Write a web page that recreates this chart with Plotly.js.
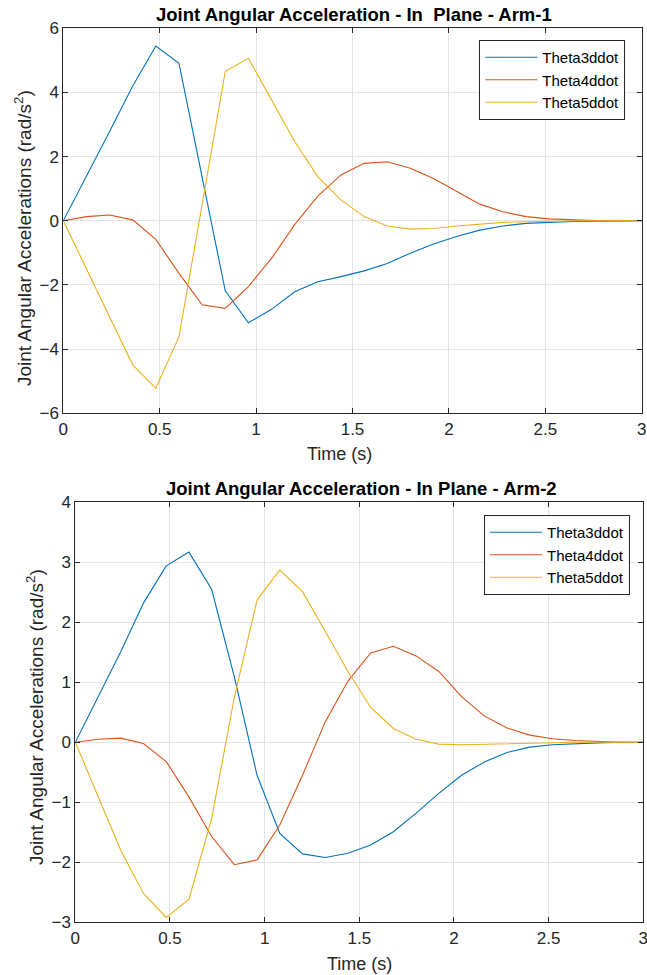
<!DOCTYPE html>
<html><head><meta charset="utf-8">
<script src="https://cdn.plot.ly/plotly-3.0.1.min.js"></script>
<style>html,body{margin:0;padding:0;background:#fff}#plot{width:647px;height:975px}</style>
</head><body><div id="plot"></div>
<script>
const time = [0,0.12,0.24,0.36,0.48,0.60,0.72,0.84,0.96,1.08,1.20,1.32,1.44,1.56,1.68,1.80,1.92,2.04,2.16,2.28,2.40,2.52,2.64,2.76,2.88,3.00];
const seriesNames = ['Theta3ddot','Theta4ddot','Theta5ddot'];
// Arm-1
const arm1Theta3 = [0,1.37,2.78,4.20,5.45,4.91,1.35,-2.18,-3.18,-2.76,-2.21,-1.90,-1.74,-1.56,-1.33,-1.01,-0.72,-0.49,-0.29,-0.16,-0.08,-0.04,-0.02,-0.01,0,0];
const arm1Theta4 = [0,0.13,0.18,0.03,-0.58,-1.64,-2.62,-2.73,-2.05,-1.17,-0.12,0.77,1.43,1.79,1.84,1.64,1.32,0.91,0.52,0.28,0.13,0.06,0.03,0.01,0,0];
const arm1Theta5 = [0,-1.50,-2.99,-4.49,-5.22,-3.61,0.50,4.65,5.07,3.77,2.47,1.38,0.65,0.13,-0.16,-0.26,-0.24,-0.16,-0.10,-0.05,-0.03,-0.01,0,0,0,0];
// Arm-2
const arm2Theta3 = [0,0.76,1.51,2.32,2.94,3.17,2.55,1.09,-0.55,-1.52,-1.86,-1.92,-1.85,-1.71,-1.49,-1.18,-0.85,-0.55,-0.33,-0.17,-0.08,-0.04,-0.02,-0.01,0,0];
const arm2Theta4 = [0,0.05,0.07,-0.02,-0.32,-0.91,-1.57,-2.04,-1.96,-1.38,-0.55,0.34,1.02,1.49,1.60,1.44,1.18,0.76,0.44,0.24,0.12,0.06,0.03,0.01,0,0];
const arm2Theta5 = [0,-0.90,-1.80,-2.52,-2.92,-2.62,-1.27,0.75,2.37,2.87,2.51,1.85,1.18,0.58,0.23,0.05,-0.03,-0.04,-0.03,-0.02,-0.01,0,0,0,0,0];
const xTicks = [0,0.5,1,1.5,2,2.5,3];
const xTickText = ['0','0.5','1','1.5','2','2.5','3'];

const colors = ['#0072BD','#D95319','#EDB120'];
const FONT = 'Liberation Sans, Arial, Helvetica, sans-serif';
const TXT = '#262626';

const traces = [];
[arm1Theta3,arm1Theta4,arm1Theta5].forEach((y,i)=>traces.push({
  x: time, y: y, type:'scatter', mode:'lines', name: seriesNames[i],
  line:{color:colors[i], width:1.1}, xaxis:'x', yaxis:'y', legend:'legend'
}));
[arm2Theta3,arm2Theta4,arm2Theta5].forEach((y,i)=>traces.push({
  x: time, y: y, type:'scatter', mode:'lines', name: seriesNames[i],
  line:{color:colors[i], width:1.1}, xaxis:'x2', yaxis:'y2', legend:'legend2'
}));

function ax(extra){
  return Object.assign({
    showline:true, linecolor:TXT, linewidth:1, mirror:'ticks',
    ticks:'inside', ticklen:5, tickcolor:TXT, tickwidth:1,
    showgrid:true, gridcolor:'#e3e3e3', gridwidth:1, zeroline:false,
    tickfont:{family:FONT, size:17, color:TXT}, automargin:false, fixedrange:true,
    ticklabeloverflow:'allow'
  }, extra);
}

const W=647, H=975;
const px = v=>v/W, py = v=>1-v/H;

const legendBase = {
  bgcolor:'#ffffff', bordercolor:TXT, borderwidth:1,
  font:{family:FONT, size:15, color:'#000'}, xanchor:'left', yanchor:'top',
  tracegroupgap:0, itemwidth:52
};

const layout = {
  width:W, height:H, margin:{l:0,r:0,t:0,b:0},
  paper_bgcolor:'#fff', plot_bgcolor:'#fff', showlegend:true,
  xaxis: ax({domain:[px(63.3),px(641.7)], range:[0,3], tickvals:xTicks, ticktext:xTickText, anchor:'y'}),
  yaxis: ax({domain:[py(413.3),py(28.3)], range:[-6,6], dtick:2, tick0:0, anchor:'x'}),
  xaxis2: ax({domain:[px(75.3),px(643.3)], range:[0,3], tickvals:xTicks, ticktext:xTickText, anchor:'y2'}),
  yaxis2: ax({domain:[py(922.3),py(502.3)], range:[-3,4], dtick:1, tick0:0, anchor:'x2'}),
  legend: Object.assign({x:px(479.3), y:py(40)}, legendBase),
  legend2: Object.assign({x:px(484), y:py(515)}, legendBase),
  annotations:[
    {text:'<b>Joint Angular Acceleration - In  Plane - Arm-1</b>', xref:'paper', yref:'paper', x:px(354), y:py(15), xanchor:'center', yanchor:'middle', showarrow:false, font:{family:FONT, size:18.5, color:'#000'}},
    {text:'<b>Joint Angular Acceleration - In Plane - Arm-2</b>', xref:'paper', yref:'paper', x:px(361), y:py(489), xanchor:'center', yanchor:'middle', showarrow:false, font:{family:FONT, size:18.5, color:'#000'}},
    {text:'Joint Angular Accelerations (rad/s<sup>2</sup>)', xref:'paper', yref:'paper', x:px(23), y:py(238), xanchor:'center', yanchor:'middle', textangle:-90, showarrow:false, font:{family:FONT, size:19, color:TXT}},
    {text:'Joint Angular Accelerations (rad/s<sup>2</sup>)', xref:'paper', yref:'paper', x:px(35), y:py(717), xanchor:'center', yanchor:'middle', textangle:-90, showarrow:false, font:{family:FONT, size:19, color:TXT}},
    {text:'Time (s)', xref:'paper', yref:'paper', x:px(339), y:py(454), xanchor:'center', yanchor:'middle', showarrow:false, font:{family:FONT, size:18, color:TXT}},
    {text:'Time (s)', xref:'paper', yref:'paper', x:px(359), y:py(964), xanchor:'center', yanchor:'middle', showarrow:false, font:{family:FONT, size:18, color:TXT}}
  ]
};

Plotly.newPlot('plot', traces, layout, {displayModeBar:false, staticPlot:true});
</script></body></html>
